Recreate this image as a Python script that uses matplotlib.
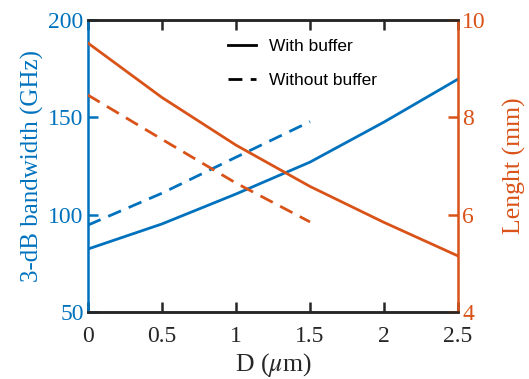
import numpy as np
import matplotlib.pyplot as plt

plt.rcParams['font.family'] = ['Liberation Serif', 'DejaVu Serif']
plt.rcParams['mathtext.fontset'] = 'stix'

# data
d_with = [0, 0.5, 1.0, 1.5, 2.0, 2.5]
bw_with = [82.3, 95.2, 110.6, 127.0, 147.6, 169.7]
len_with = [9.53, 8.41, 7.43, 6.58, 5.84, 5.15]

d_without = [0, 0.5, 1.0, 1.5]
bw_without = [94.6, 111.0, 129.5, 147.8]
len_without = [8.46, 7.55, 6.65, 5.85]

blue = '#0072BD'
orange = '#D95319'

fig = plt.figure(figsize=(5.29, 3.79), dpi=100)
ax = fig.add_axes([0.166, 0.177, 0.700, 0.770])
ax2 = ax.twinx()

lw = 2.0
dash = (0, (5, 3))
ax.plot(d_with, bw_with, color=blue, lw=lw)
ax.plot(d_without, bw_without, color=blue, lw=lw, ls=dash)
ax2.plot(d_with, len_with, color=orange, lw=lw)
ax2.plot(d_without, len_without, color=orange, lw=lw, ls=dash)

ax.set_xlim(0, 2.5)
ax.set_ylim(50, 200)
ax2.set_ylim(4, 10)
ax.set_xticks([0, 0.5, 1, 1.5, 2, 2.5])
ax.set_xticklabels(['0', '0.5', '1', '1.5', '2', '2.5'])
ax.set_yticks([50, 100, 150, 200])
ax2.set_yticks([4, 6, 8, 10])

for a in (ax, ax2):
    for s in ('top', 'bottom'):
        a.spines[s].set_linewidth(1.8)
        a.spines[s].set_color('#262626')
ax.spines['left'].set_color(blue)
ax.spines['left'].set_linewidth(1.8)
ax2.spines['left'].set_visible(False)
ax.spines['right'].set_visible(False)
ax2.spines['right'].set_color(orange)
ax2.spines['right'].set_linewidth(1.8)

ax.tick_params(axis='x', direction='in', top=True, length=7, width=1.8,
               colors='#262626', labelsize=17, pad=10)
ax.tick_params(axis='y', direction='in', length=7, width=1.8,
               colors=blue, labelsize=17, pad=3)
ax2.tick_params(axis='y', direction='in', length=7, width=1.8,
                colors=orange, labelsize=17, pad=3)

ax.set_xlabel('D ($\\mu$m)', fontsize=18.5, color='#262626', labelpad=3)
ax.set_ylabel('3-dB bandwidth (GHz)', fontsize=18, color=blue, labelpad=3)
ax2.set_ylabel('Lenght (mm)', fontsize=18.5, color=orange, labelpad=12)

h1, = ax.plot([], [], color='black', lw=lw)
h2, = ax.plot([], [], color='black', lw=lw, ls=dash)
ax.legend([h1, h2], ['With buffer', 'Without buffer'], loc='upper center',
          bbox_to_anchor=(0.58, 0.99), frameon=False, handlelength=1.6,
          labelspacing=1.1, prop={'family': 'Liberation Sans', 'size': 12.5})

fig.savefig('out.png', dpi=100)
